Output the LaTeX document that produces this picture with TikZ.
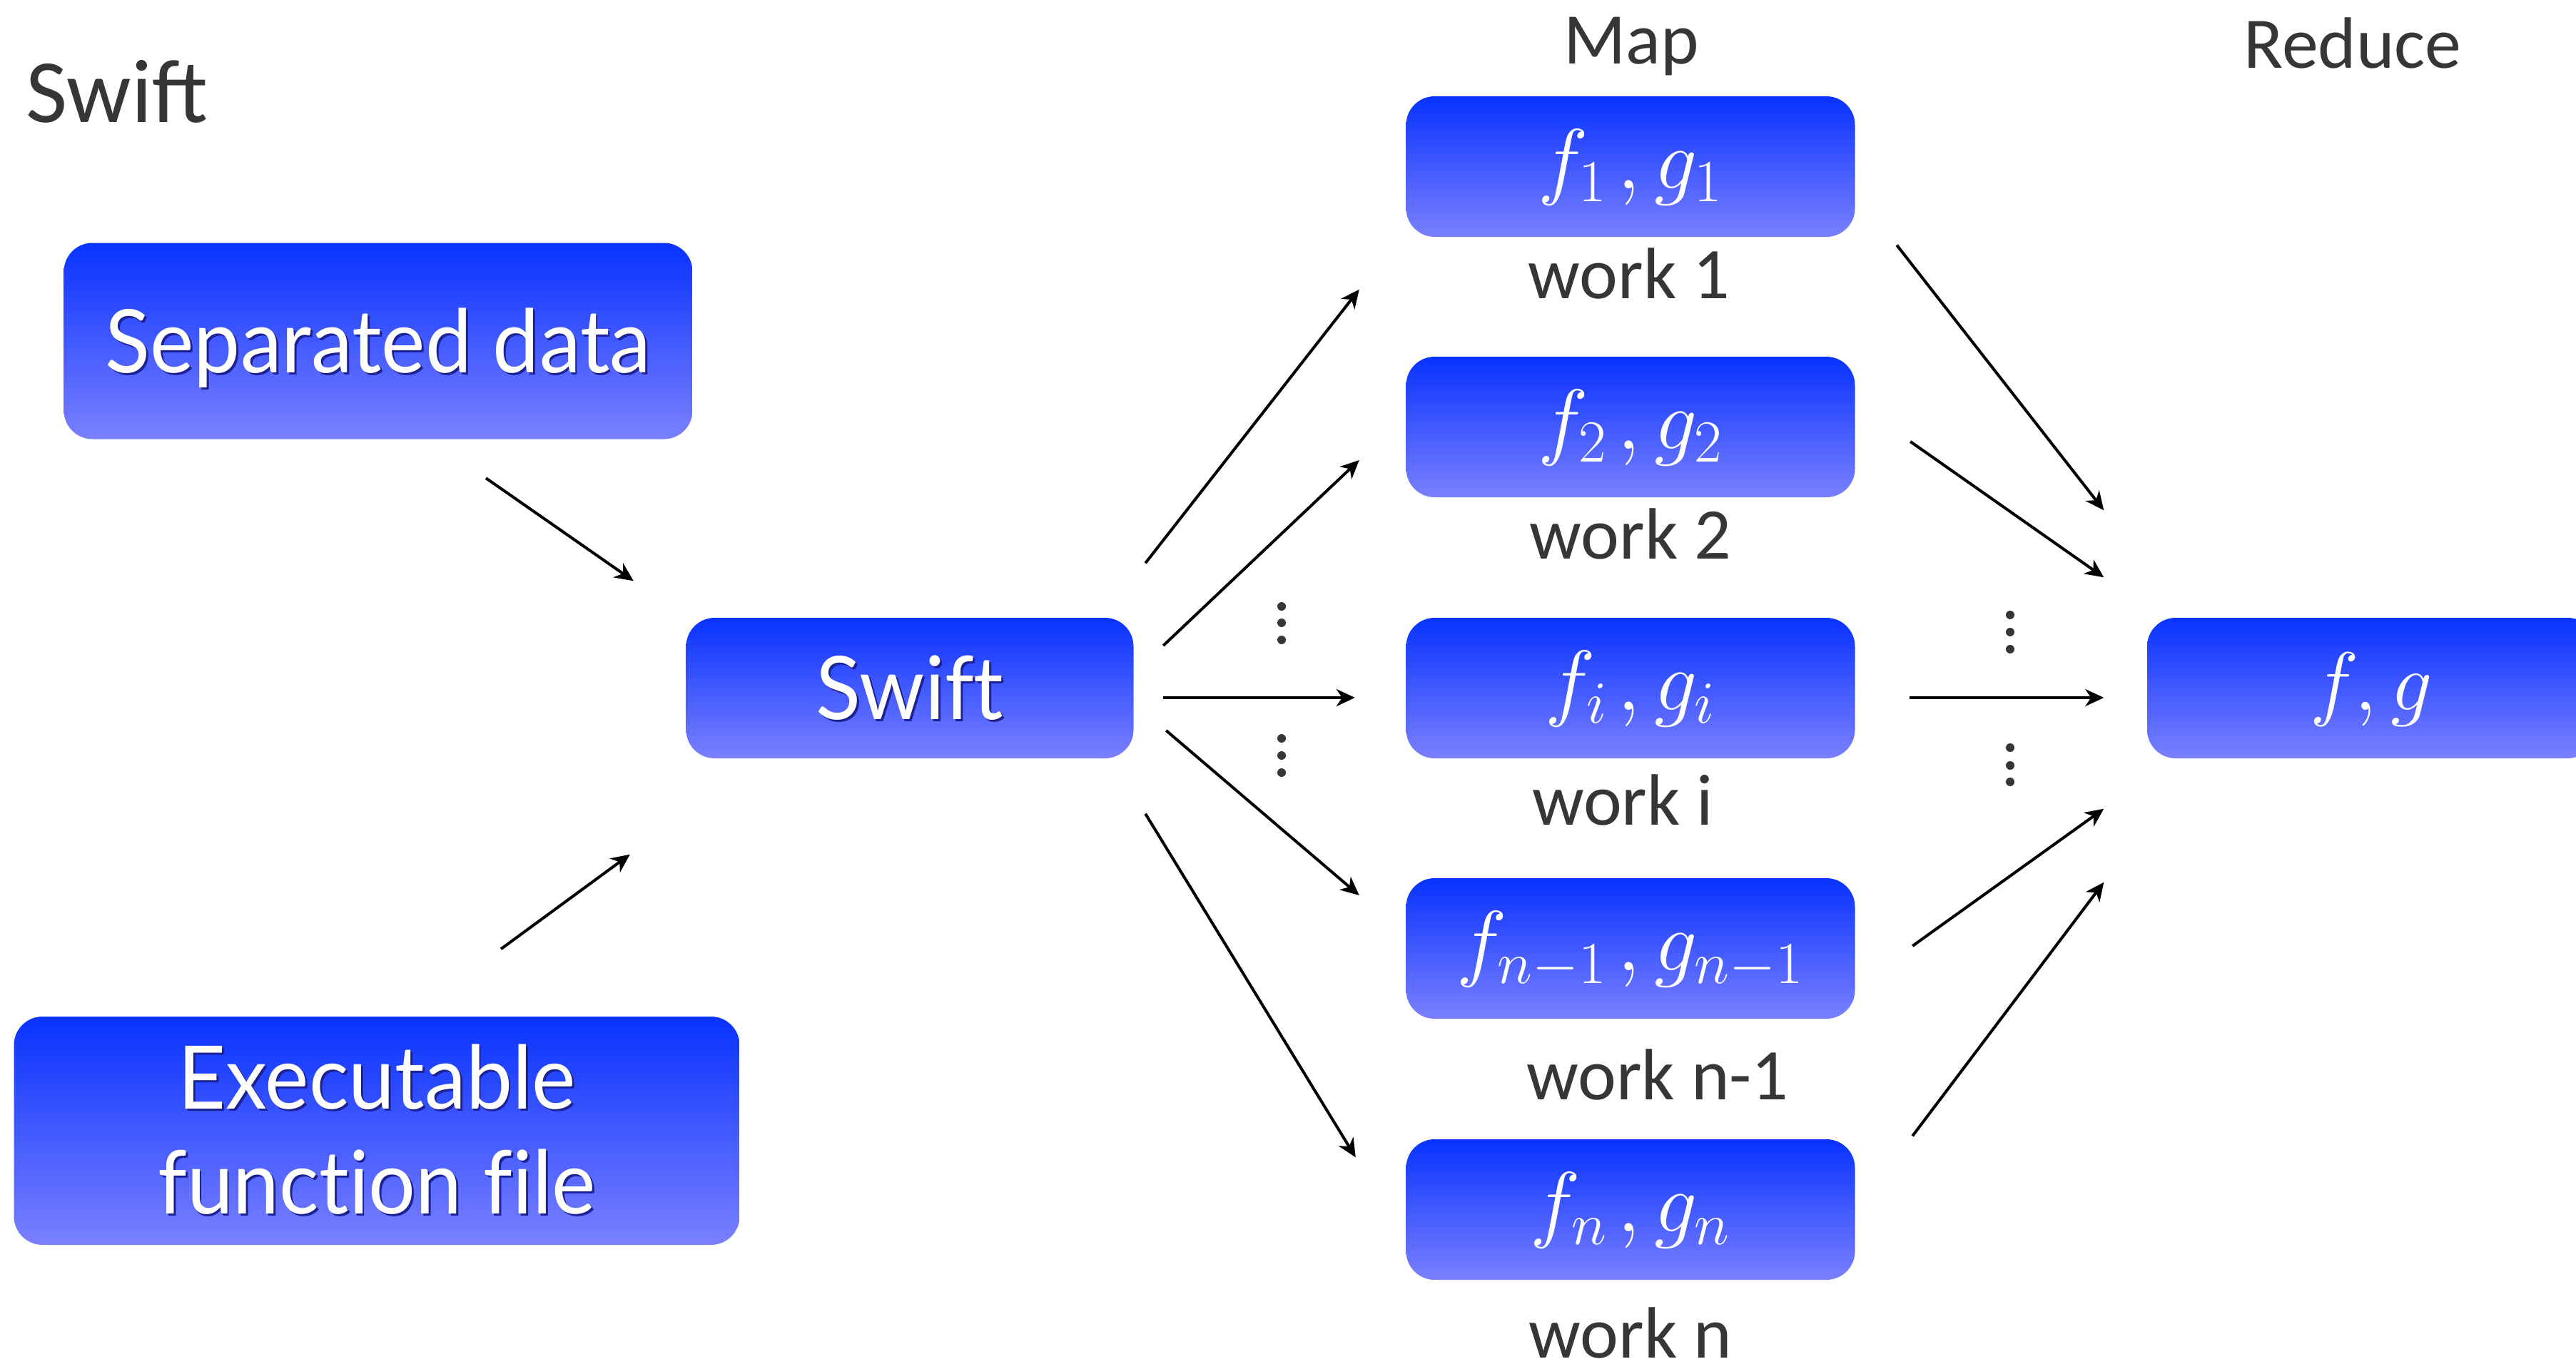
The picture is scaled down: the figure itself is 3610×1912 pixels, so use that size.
\RequirePackage{fix-cm}
\documentclass[tikz,border=0pt]{standalone}
\usepackage{graphicx}
\usepackage{fontspec}
\setmainfont{Carlito}
\newfontfamily\boxfont[Ligatures=NoCommon]{Lato}
\usetikzlibrary{arrows.meta,calc}

\definecolor{labelgray}{RGB}{54,54,54}
\definecolor{boxtop}{RGB}{8,50,255}
\definecolor{boxbottom}{RGB}{122,128,255}
\definecolor{textshade}{RGB}{28,34,150}

% white box lettering, slightly condensed, with a soft dark drop shadow
\newcommand\shadowed[1]{\scalebox{0.945}[1]{\makebox[0pt][l]{\hspace{0.3mm}\raisebox{-0.3mm}{\textcolor{textshade}{#1}}}#1}}
% a pair of indexed functions, with a little air before the comma
\newcommand\fpair[2]{$#1\mkern2mu,#2$}

\tikzset{
  flowbox/.style={rounded corners=4mm, top color=boxtop, bottom color=boxbottom,
                  draw=none, text=white, inner sep=0pt},
  wordbox/.style={flowbox, font=\boxfont\fontsize{35}{41.8}\selectfont},
  mathbox/.style={flowbox, font=\fontsize{34}{40}\selectfont,
                  minimum width=62.9mm, minimum height=19.7mm,
                  text height=6.2mm, text depth=0mm},
  caption/.style={text=labelgray, font=\fontsize{29}{35}\selectfont,
                  inner sep=0pt, anchor=base},
  flow/.style={-{Stealth[length=2.6mm,width=2.4mm,inset=0.8mm]}, line width=0.4mm},
  dotmark/.style={fill=labelgray}
}

\begin{document}
\begin{tikzpicture}[x=0.1mm, y=-0.1mm]
\useasboundingbox (0,0) rectangle (3610,1912);
\clip (0,0) rectangle (3610,1912);

% headings
\node[text=labelgray, font=\fontsize{36}{43}\selectfont, inner sep=0pt, anchor=base west]
  (title) at (36,171) {Swift};
\node[caption] (maphead) at (2286,90) {Map};
\node[caption] (reducehead) at (3297,95) {Reduce};

% inputs and the dispatcher
\node[wordbox, minimum width=88.1mm, minimum height=27.5mm, text height=8.8mm, text depth=0mm]
  (sep) at (530,478) {\shadowed{Separated data}};
\node[wordbox, minimum width=101.7mm, minimum height=32mm, align=center]
  (exe) at (528,1585) {\shadowed{Executable}\\\shadowed{function file}};
\node[wordbox, minimum width=62.7mm, minimum height=19.7mm, text height=8.8mm, text depth=0mm]
  (swift) at (1275,964.5) {\shadowed{Swift}};

% map workers
\node[mathbox] (m1) at (2285,233.5) {\fpair{f_1}{g_1}};
\node[mathbox] (m2) at (2285,598.5) {\fpair{f_2}{g_2}};
\node[mathbox] (mi) at (2285,964.5) {\fpair{f_i}{g_i}};
\node[mathbox] (mp) at (2285,1329.5) {\fpair{f_{n-1}}{g_{n-1}}};
\node[mathbox] (mn) at (2285,1695.5) {\fpair{f_n}{g_n}};

\node[caption] (w1) at (2283,418) {work 1};
\node[caption] (w2) at (2285,783) {work 2};
\node[caption] (wi) at (2274,1156) {work i};
\node[caption] (wp) at (2323,1541) {work n-1};
\node[caption] (wn) at (2285,1903) {work n};

% reducer
\node[mathbox, font=\fontsize{33}{40}\selectfont] (red) at (3323.5,964.5) {$f,g$};

% inputs into the dispatcher
\draw[flow] ($(sep.south)+(151,54)$) -- ($(swift.north west)+(-73,-51)$);
\draw[flow] ($(exe.north)+(174,-94)$) -- ($(swift.south west)+(-78,134)$);

% dispatcher to workers
\draw[flow] ($(swift.north east)+(16,-76)$) -- ($(m1.south west)+(-65,73)$);
\draw[flow] ($(swift.east)+(41,-59.5)$) -- ($(m2.west)+(-65,46.5)$);
\draw[flow] ($(swift.east)+(41,13.5)$) -- ($(mi.west)+(-71,13.5)$);
\draw[flow] ($(swift.east)+(45,59.5)$) -- ($(mp.west)+(-65,-74.5)$);
\draw[flow] ($(swift.south east)+(16,77)$) -- ($(mn.north west)+(-70,26)$);

% workers to reducer
\draw[flow] ($(m1.south east)+(58,11)$) -- ($(red.north west)+(-60,-150)$);
\draw[flow] ($(m2.east)+(77,20.5)$) -- ($(red.north west)+(-60,-56)$);
\draw[flow] ($(mi.east)+(76,13.5)$) -- ($(red.west)+(-60,13.5)$);
\draw[flow] ($(mp.east)+(80,-3.5)$) -- ($(red.south west)+(-60,70)$);
\draw[flow] ($(mn.north east)+(80,-4)$) -- ($(red.south west)+(-60,173)$);

% vertical ellipses
\foreach \yy in {850,873,897,1035,1059,1083}
  \fill[dotmark] (1796,\yy) circle (0.6mm);
\foreach \yy in {862,886,910,1048,1073,1096}
  \fill[dotmark] (2817,\yy) circle (0.6mm);
\end{tikzpicture}
\end{document}
